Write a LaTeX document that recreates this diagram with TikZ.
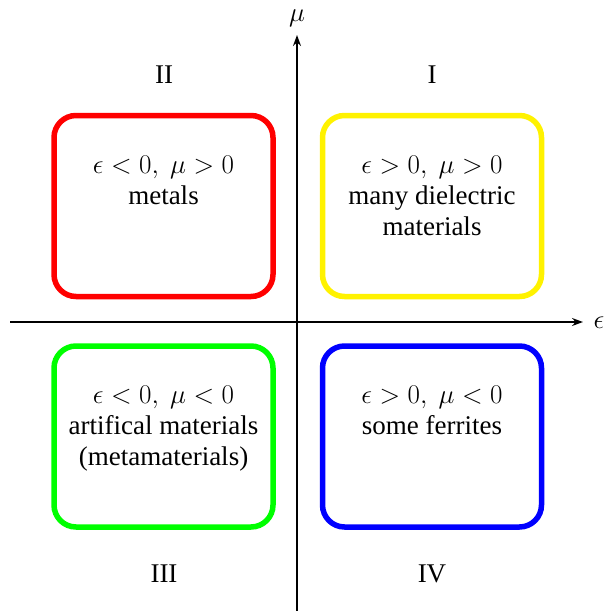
\RequirePackage{fix-cm}
\documentclass[tikz,border=0pt]{standalone}
\usepackage{fontspec}
\setmainfont{Liberation Serif}
\usetikzlibrary{arrows.meta}
\tikzset{
  region/.style={draw, line width=5.5pt, rounded corners=22pt, minimum width=219pt, minimum height=181pt, inner sep=0pt},
  regtext/.style={anchor=north, align=center, inner sep=0pt, font=\fontsize{27}{31}\selectfont},
  quadlabel/.style={inner sep=0pt, font=\fontsize{27}{31}\selectfont},
  axis/.style={line width=1.5pt, -{Stealth[length=11pt,width=8pt]}},
}
\begin{document}
\begin{tikzpicture}[x=1pt,y=-1pt]
\useasboundingbox (0,0) rectangle (608,611);
% axes
\coordinate (xs) at (10,322);
\coordinate (xe) at (583,322);
\coordinate (ys) at (297,611);
\coordinate (ye) at (297,35);
\draw[axis] (xs) -- (xe);
\draw[axis] (ys) -- (ye);
\node[quadlabel] (mu) at (297,18) {$\mu$};
\node[quadlabel] (eps) at (599,323) {$\epsilon$};
% regions
\node[region, red] (q2) at (163.5,206) {};
\node[region, yellow] (q1) at (432,206) {};
\node[region, green] (q3) at (163.5,436.5) {};
\node[region, blue] (q4) at (432,436.5) {};
% region texts
\node[regtext] (t2) at (163.5,156) {$\epsilon<0,\ \mu>0$\\metals};
\node[regtext] (t1) at (432,156) {$\epsilon>0,\ \mu>0$\\many dielectric\\materials};
\node[regtext] (t3) at (163.5,386) {$\epsilon<0,\ \mu<0$\\artifical materials\\(metamaterials)};
\node[regtext] (t4) at (432,386) {$\epsilon>0,\ \mu<0$\\some ferrites};
% quadrant labels
\node[quadlabel] (l2) at (164,75) {II};
\node[quadlabel] (l1) at (432,75) {I};
\node[quadlabel] (l3) at (164,574) {III};
\node[quadlabel] (l4) at (432,574) {IV};
\end{tikzpicture}
\end{document}
